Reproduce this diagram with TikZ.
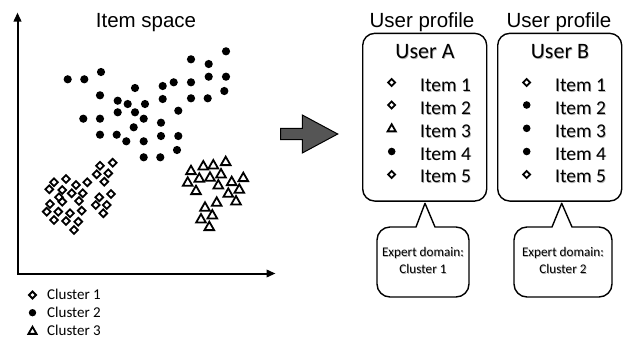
\documentclass[tikz,border=0pt]{standalone}
\usepackage{fontspec}
\setmainfont{Carlito}
\newfontfamily\arialf{Liberation Sans}
\usetikzlibrary{arrows.meta}
\definecolor{arrowgray}{RGB}{85,85,85}
\newcommand\mkDia[3][3.9]{\draw[symline] (#2,#3) ++(0,-#1) -- ++(#1,#1) -- ++(-#1,#1) -- ++(-#1,-#1) -- cycle;}
\newcommand\mkDot[3][4.1]{\fill (#2,#3) circle[radius=#1];}
\newcommand\mkTri[3][1]{\draw[symline] (#2,#3) ++(0,-5*#1) -- ++(4.8*#1,8.4*#1) -- ++(-9.6*#1,0) -- cycle;}
\newcommand\shd[1]{\leavevmode\rlap{\raisebox{-0.9pt}{\kern0.7pt\textcolor{black!30}{#1}}}#1}
\tikzset{
  symline/.style={line width=1.8pt, line join=miter},
  titlef/.style={font=\arialf\fontsize{20.5}{24}\selectfont, inner sep=0pt},
  userf/.style={font=\fontsize{22}{26}\selectfont, inner sep=0pt},
  itemf/.style={font=\fontsize{19.5}{23}\selectfont, inner sep=0pt, anchor=base west},
  legf/.style={font=\fontsize{15}{18}\selectfont, inner sep=0pt, anchor=base west},
  calf/.style={font=\fontsize{13.2}{16}\selectfont, inner sep=0pt, anchor=base},
  profbox/.style={draw, line width=1.4pt, rounded corners=12pt, inner sep=0pt, minimum width=124pt, minimum height=167.7pt},
  callbox/.style={line width=1.4pt, line join=round},
  axisline/.style={line width=2pt, {Triangle[length=9pt,width=7.5pt]}-{Triangle[length=9pt,width=7.5pt]}},
}
\begin{document}
\begin{tikzpicture}[x=1pt,y=-1pt]
\useasboundingbox (0,0) rectangle (623,341);

% axes
\coordinate (ytip) at (17.5,12.5);
\coordinate (origin) at (17.5,273.5);
\coordinate (xtip) at (275.5,273.5);
\draw[axisline] (ytip) -- (origin) -- (xtip);

\node[titlef, anchor=base] (itemspace) at (146,27.3) {Item space};

% cluster 2 (dots)
\foreach \x/\y in {67.7/79.3, 84.3/79.3, 101/72, 135/88, 162.7/86, 173.7/82.3, 191/82.3, 191/59.3,
  208.7/64, 226/51.3, 208.7/76.7, 226/76.7, 224.3/91, 191/98.3, 207.7/98.3, 162.7/99, 100/95.3,
  117.7/100.7, 127.7/104, 145/104, 117.7/112.3, 135/112.3, 143.7/118.7, 83.3/118.7, 100/118.7,
  178.3/110.7, 161/122.7, 133.7/127.3, 100/134.7, 116.7/134.7, 126.3/141.3, 143.7/141.3,
  161/136, 178.3/136, 177/150, 143.7/157.3, 160.3/157.3}
  {\mkDot{\x}{\y}}

% cluster 1 (diamonds)
\foreach \x/\y in {112.7/162.7, 100/165.7, 108.3/173.3, 96.7/174.3, 104.3/181.7, 87.3/182.3,
  76/185, 66/179, 54/182.3, 62.3/190, 71.7/193.3, 49.3/189.3, 82.7/193.3, 59/197.3, 62.3/201.7,
  79/201, 50/204, 111/194, 99.3/197.3, 95.7/205, 106.7/205, 46.7/211.7, 58.3/211.7, 70/213.3,
  81.7/210.7, 103.3/213.3, 54/220, 66/221, 78.3/221.7, 74/230}
  {\mkDia{\x}{\y}}

% cluster 3 (triangles)
\foreach \x/\y in {225.7/161.7, 213.3/165, 203.3/166, 191/170.7, 221/174, 210/177.3, 199.3/178.3,
  187.7/182.3, 218.3/185, 231.7/181.7, 243.3/177.7, 196/190.7, 239.3/189.3, 228.3/193.3,
  236/201, 216.7/202.3, 205/207.3, 212.3/215, 201/219, 209.3/226.7}
  {\mkTri{\x}{\y}}

% legend
\mkDia[3.5]{32.5}{295}
\mkDot[3.7]{32.5}{312.7}
\mkTri[0.85]{32.5}{331}
\node[legf] (leg1) at (47,299.3) {Cluster 1};
\node[legf] (leg2) at (47,317.7) {Cluster 2};
\node[legf] (leg3) at (47,335.7) {Cluster 3};

% big arrow
\draw[line width=1pt, fill=arrowgray, line join=miter]
  (280.7,128.3) -- (302.3,128.3) -- (302.3,115) -- (337.7,134) -- (302.3,153)
  -- (302.3,139.5) -- (280.7,139.5) -- cycle;

% user profiles
\node[titlef, anchor=base] (profA) at (422,27.3) {User profile};
\node[titlef, anchor=base] (profB) at (559,27.3) {User profile};
\node[profbox] (boxA) at (424.7,117.2) {};
\node[profbox] (boxB) at (559.7,117.2) {};
\node[userf, anchor=base] (userA) at (425,58.3) {\shd{User A}};
\node[userf, anchor=base] (userB) at (560,58.3) {\shd{User B}};

% user A items
\mkDia[3.5]{391.7}{82.5}
\mkDia[3.5]{391.7}{105}
\mkTri[0.85]{391.7}{128.5}
\mkDot[3.8]{391.7}{151.5}
\mkDia[3.5]{391.7}{174.5}
\node[itemf] (a1) at (420,91.7) {\shd{Item 1}};
\node[itemf] (a2) at (420,114.3) {\shd{Item 2}};
\node[itemf] (a3) at (420,137.3) {\shd{Item 3}};
\node[itemf] (a4) at (420,160) {\shd{Item 4}};
\node[itemf] (a5) at (420,182.7) {\shd{Item 5}};

% user B items
\mkDia[3.5]{526.7}{82.5}
\mkDot[3.8]{526.7}{105}
\mkDot[3.8]{526.7}{128.3}
\mkDot[3.8]{526.7}{151.5}
\mkDia[3.5]{526.7}{174.5}
\node[itemf] (b1) at (555,91.7) {\shd{Item 1}};
\node[itemf] (b2) at (555,114.3) {\shd{Item 2}};
\node[itemf] (b3) at (555,137.3) {\shd{Item 3}};
\node[itemf] (b4) at (555,160) {\shd{Item 4}};
\node[itemf] (b5) at (555,182.7) {\shd{Item 5}};

% callouts
\draw[callbox] (425,203.3) -- (435,227) [rounded corners=13pt] -- (469,227) -- (469,297) -- (377,297) -- (377,227) [sharp corners] -- (416,227) -- cycle;
\draw[callbox] (561.7,203.3) -- (572,227) [rounded corners=13pt] -- (612,227) -- (612,297) -- (514,297) -- (514,227) [sharp corners] -- (552,227) -- cycle;
\node[calf] (ca1) at (423,256.7) {\shd{Expert domain:}};
\node[calf] (ca2) at (423,273.3) {\shd{Cluster 1}};
\node[calf] (cb1) at (563,256.7) {\shd{Expert domain:}};
\node[calf] (cb2) at (563,273.3) {\shd{Cluster 2}};
\end{tikzpicture}
\end{document}
